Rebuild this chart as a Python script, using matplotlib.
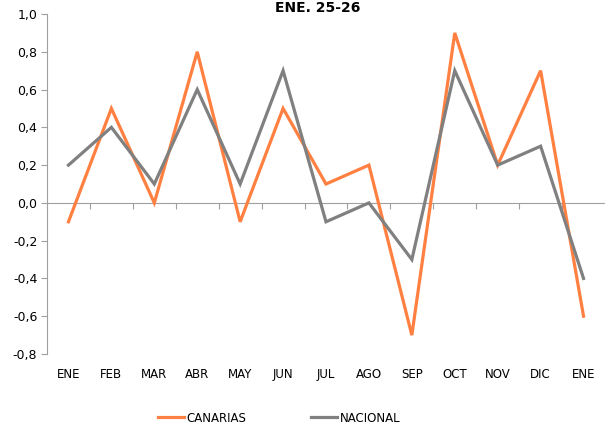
import matplotlib
matplotlib.use("Agg")
import matplotlib.pyplot as plt
import numpy as np

months = ["ENE", "FEB", "MAR", "ABR", "MAY", "JUN", "JUL", "AGO", "SEP", "OCT", "NOV", "DIC", "ENE"]
canarias = [-0.1, 0.5, 0.0, 0.8, -0.1, 0.5, 0.1, 0.2, -0.7, 0.9, 0.2, 0.7, -0.6]
nacional = [0.2, 0.4, 0.1, 0.6, 0.1, 0.7, -0.1, 0.0, -0.3, 0.7, 0.2, 0.3, -0.4]
yticks = [-0.8, -0.6, -0.4, -0.2, 0.0, 0.2, 0.4, 0.6, 0.8, 1.0]
title = "ENE. 25-26"

plt.rcParams['font.family'] = ['DejaVu Sans']
fig = plt.figure(figsize=(6.05, 4.30), dpi=100)
ax = fig.add_axes([47/605, 1-354/430, 1-47/605, (354-14)/430])

x = np.arange(len(months))
orange = "#FF8040"
gray = "#808080"
ax.plot(x, canarias, color=orange, lw=2.3, label="CANARIAS", solid_joinstyle='miter')
ax.plot(x, nacional, color=gray, lw=2.3, label="NACIONAL", solid_joinstyle='miter')

ax.set_xlim(-0.5, len(months)-0.5)
ax.set_ylim(-0.8, 1.0)
ax.set_yticks(yticks)
ax.set_yticklabels([f"{v:.1f}".replace(".", ",") for v in yticks], fontsize=9)
ax.tick_params(axis='y', length=4, color="#A0A0A0", pad=3)
ax.set_xticks(x)
ax.set_xticklabels(months, fontsize=8.5)
ax.tick_params(axis='x', length=0, pad=10)

for s in ["top", "right", "bottom"]:
    ax.spines[s].set_visible(False)
ax.spines['left'].set_color("#A0A0A0")

zero_pos = (0 - (-0.8)) / 1.8
sec = ax.secondary_xaxis(zero_pos)
sec.set_xticks(np.arange(0.5, len(months)-1, 1.0))
sec.set_xticklabels([])
sec.tick_params(axis='x', direction='out', length=4, color="#A0A0A0")
sec.spines['bottom'].set_color("#A0A0A0")

fig.text(318/605, 1-1/430, title, ha='center', va='top', fontsize=10, fontweight='bold')

fig.legend(loc='center', bbox_to_anchor=(279/605, 1-418/430), ncol=2, frameon=False,
           fontsize=8.5, handlelength=2.2, handletextpad=0.2, columnspacing=5.5)

fig.savefig("out.png", dpi=100)
